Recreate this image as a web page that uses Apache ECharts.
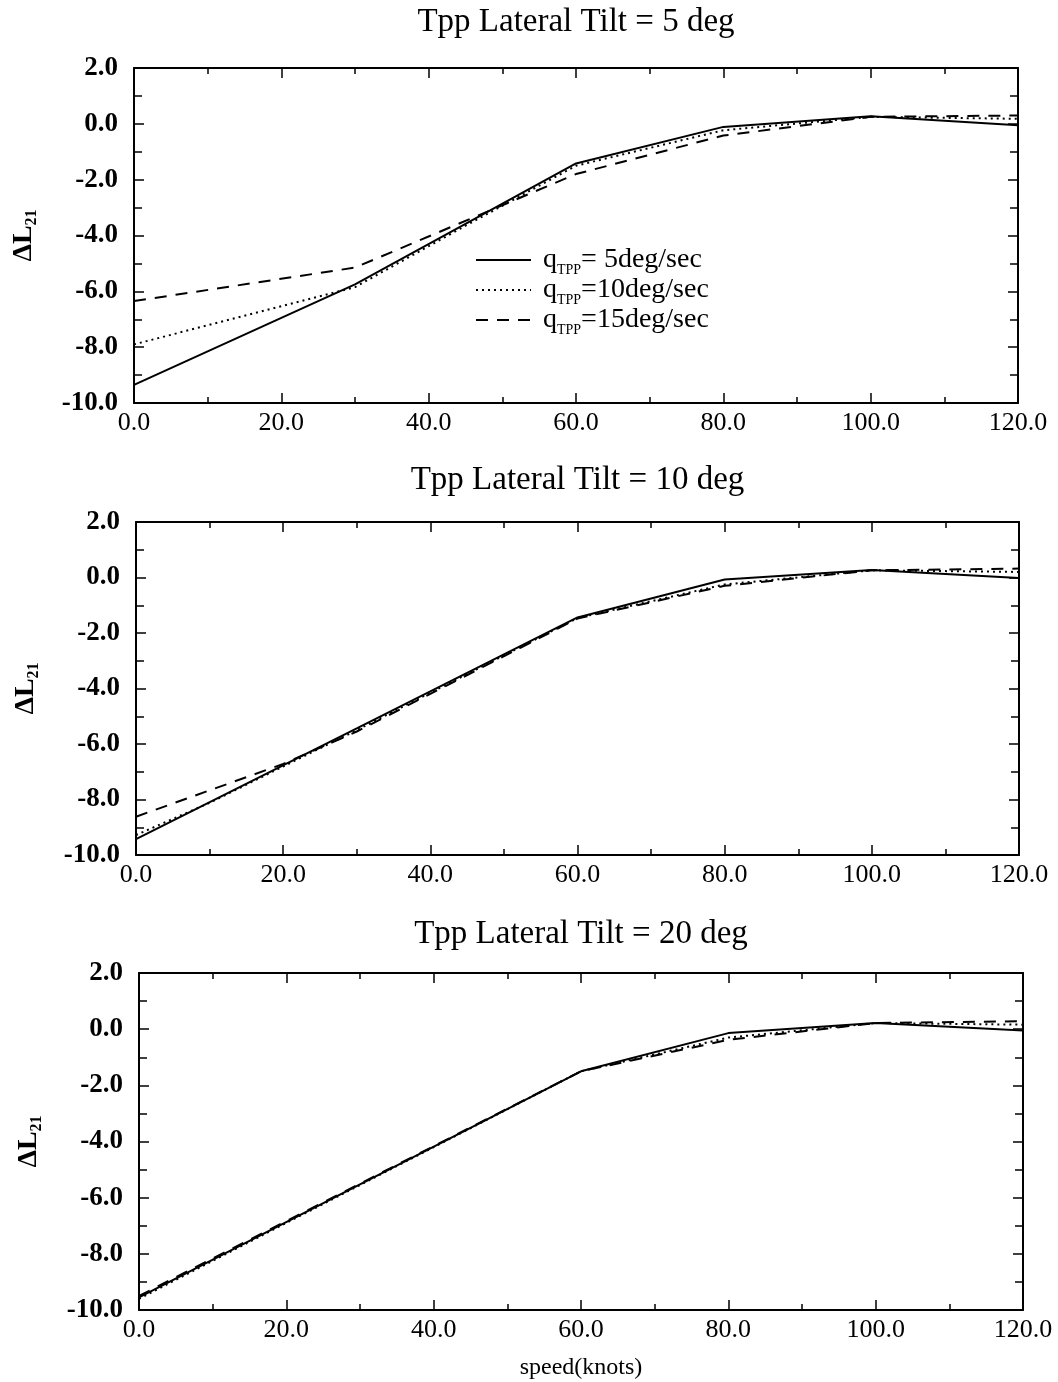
<!DOCTYPE html>
<html>
<head>
<meta charset="utf-8">
<script src="https://cdn.jsdelivr.net/npm/echarts@6/dist/echarts.min.js"></script>
<style>
html,body{margin:0;padding:0;background:#fff;}
#c{width:1058px;height:1382px;}
</style>
</head>
<body>
<div id="c"></div>
<script>
// ---- data ----
const panelTitles = ['Tpp Lateral Tilt = 5 deg', 'Tpp Lateral Tilt = 10 deg', 'Tpp Lateral Tilt = 20 deg'];
const seriesNames = ['q5', 'q10', 'q15'];
const legendLabels = ['= 5deg/sec', '=10deg/sec', '=15deg/sec'];
const xTicks = [0, 20, 40, 60, 80, 100, 120];
const yTicks = [-10, -8, -6, -4, -2, 0, 2];

// panel 1 (tilt 5 deg)
const p1_q5_x  = [0, 30, 60, 80, 100, 120];
const p1_q5_y  = [-9.35, -5.75, -1.42, -0.11, 0.27, -0.05];
const p1_q10_x = [0, 30, 45, 60, 80, 100, 120];
const p1_q10_y = [-7.9, -5.85, -3.65, -1.5, -0.23, 0.25, 0.18];
const p1_q15_x = [0, 30, 60, 80, 100, 120];
const p1_q15_y = [-6.35, -5.15, -1.8, -0.42, 0.25, 0.3];

// panel 2 (tilt 10 deg)
const p2_q5_x  = [0, 30, 60, 80, 100, 120];
const p2_q5_y  = [-9.43, -5.44, -1.44, -0.07, 0.27, -0.02];
const p2_q10_x = [0, 10, 30, 60, 80, 100, 120];
const p2_q10_y = [-9.28, -8.12, -5.5, -1.46, -0.25, 0.26, 0.2];
const p2_q15_x = [0, 20, 30, 60, 80, 100, 120];
const p2_q15_y = [-8.62, -6.72, -5.55, -1.48, -0.3, 0.26, 0.32];

// panel 3 (tilt 20 deg)
const p3_q5_x  = [0, 60, 80, 100, 120];
const p3_q5_y  = [-9.55, -1.5, -0.14, 0.22, -0.05];
const p3_q10_x = [0, 60, 80, 100, 120];
const p3_q10_y = [-9.6, -1.5, -0.3, 0.22, 0.16];
const p3_q15_x = [0, 60, 80, 100, 120];
const p3_q15_y = [-9.5, -1.5, -0.38, 0.22, 0.28];

const panels = [
  [[p1_q5_x, p1_q5_y], [p1_q10_x, p1_q10_y], [p1_q15_x, p1_q15_y]],
  [[p2_q5_x, p2_q5_y], [p2_q10_x, p2_q10_y], [p2_q15_x, p2_q15_y]],
  [[p3_q5_x, p3_q5_y], [p3_q10_x, p3_q10_y], [p3_q15_x, p3_q15_y]]
];

// ---- layout / style ----
const FONT = '"Liberation Serif", "Times New Roman", serif';
const grids = [
  {left: 134, top: 68, width: 884, height: 335},
  {left: 136, top: 522, width: 883, height: 333},
  {left: 139, top: 973, width: 884, height: 337}
];
const titleY = [22, 480, 934];
const lineStyles = [
  {type: 'solid', width: 2},
  {type: [2, 4], width: 2},
  {type: [12, 9], width: 2}
];

const xAxes = [], yAxes = [], series = [], graphics = [];
grids.forEach((g, i) => {
  const common = {
    gridIndex: i, type: 'value', min: 0, max: 120, interval: 20,
    axisLine: {show: true, onZero: false, lineStyle: {color: '#000', width: 2}},
    axisTick: {show: true, inside: true, length: 10, lineStyle: {color: '#000', width: 1.5}},
    minorTick: {show: true, splitNumber: 2, length: 6, lineStyle: {color: '#000', width: 1.5}},
    splitLine: {show: false}
  };
  xAxes.push(Object.assign({}, common, {
    position: 'bottom',
    axisLabel: {show: true, margin: 7, color: '#000', fontFamily: FONT, fontSize: 26,
      formatter: v => v.toFixed(1)},
    name: i === 2 ? 'speed(knots)' : '',
    nameLocation: 'middle', nameGap: 46,
    nameTextStyle: {color: '#000', fontFamily: FONT, fontSize: 24}
  }));
  xAxes.push(Object.assign({}, common, {position: 'top', axisLabel: {show: false}}));
  const ycommon = {
    gridIndex: i, type: 'value', min: -10, max: 2, interval: 2,
    axisLine: {show: true, onZero: false, lineStyle: {color: '#000', width: 2}},
    axisTick: {show: true, inside: true, length: 10, lineStyle: {color: '#000', width: 1.5}},
    minorTick: {show: true, splitNumber: 2, length: 8, lineStyle: {color: '#000', width: 1.5}},
    splitLine: {show: false}
  };
  yAxes.push(Object.assign({}, ycommon, {
    position: 'left',
    axisLabel: {show: true, margin: 16, color: '#000', fontFamily: FONT, fontSize: 27, fontWeight: 'bold',
      formatter: v => v.toFixed(1)},
    name: '{a|ΔL}{b|21}',
    nameLocation: 'middle', nameGap: 94, nameRotate: 90,
    nameTextStyle: {
      rich: {
        a: {fontFamily: FONT, fontSize: 28, fontWeight: 'bold', color: '#000', lineHeight: 32},
        b: {fontFamily: FONT, fontSize: 16, fontWeight: 'bold', color: '#000', lineHeight: 16, verticalAlign: 'bottom'}
      }
    }
  }));
  yAxes.push(Object.assign({}, ycommon, {position: 'right', axisLabel: {show: false}}));

  panels[i].forEach((s, k) => {
    series.push({
      name: seriesNames[k],
      type: 'line',
      xAxisIndex: i * 2,
      yAxisIndex: i * 2,
      symbol: 'none',
      silent: true,
      animation: false,
      lineStyle: Object.assign({color: '#000'}, lineStyles[k]),
      itemStyle: {color: '#000'},
      data: s[0].map((x, j) => [x, s[1][j]])
    });
  });

  graphics.push({
    type: 'text',
    x: g.left + g.width / 2,
    y: titleY[i],
    style: {
      text: panelTitles[i],
      font: '33px ' + FONT,
      fill: '#000',
      textAlign: 'center',
      textVerticalAlign: 'middle'
    }
  });
});

const chart = echarts.init(document.getElementById('c'), null, {renderer: 'canvas'});
chart.setOption({
  backgroundColor: '#fff',
  animation: false,
  grid: grids,
  xAxis: xAxes,
  yAxis: yAxes,
  series: series,
  graphic: graphics,
  legend: {
    data: seriesNames,
    orient: 'vertical',
    left: 475,
    top: 246,
    padding: 0,
    itemGap: -1,
    itemWidth: 55,
    itemHeight: 14,
    selectedMode: false,
    itemStyle: {color: 'transparent', opacity: 0, borderWidth: 0},
    formatter: function (name) {
      const idx = seriesNames.indexOf(name);
      return '{q|q}{s|TPP}{t|' + legendLabels[idx] + '}';
    },
    textStyle: {
      rich: {
        q: {fontFamily: FONT, fontSize: 28, color: '#000', lineHeight: 34, padding: [0, 0, 0, 7]},
        s: {fontFamily: FONT, fontSize: 14, color: '#000', lineHeight: 14, verticalAlign: 'bottom'},
        t: {fontFamily: FONT, fontSize: 28, color: '#000', lineHeight: 34}
      }
    }
  }
});
</script>
</body>
</html>
